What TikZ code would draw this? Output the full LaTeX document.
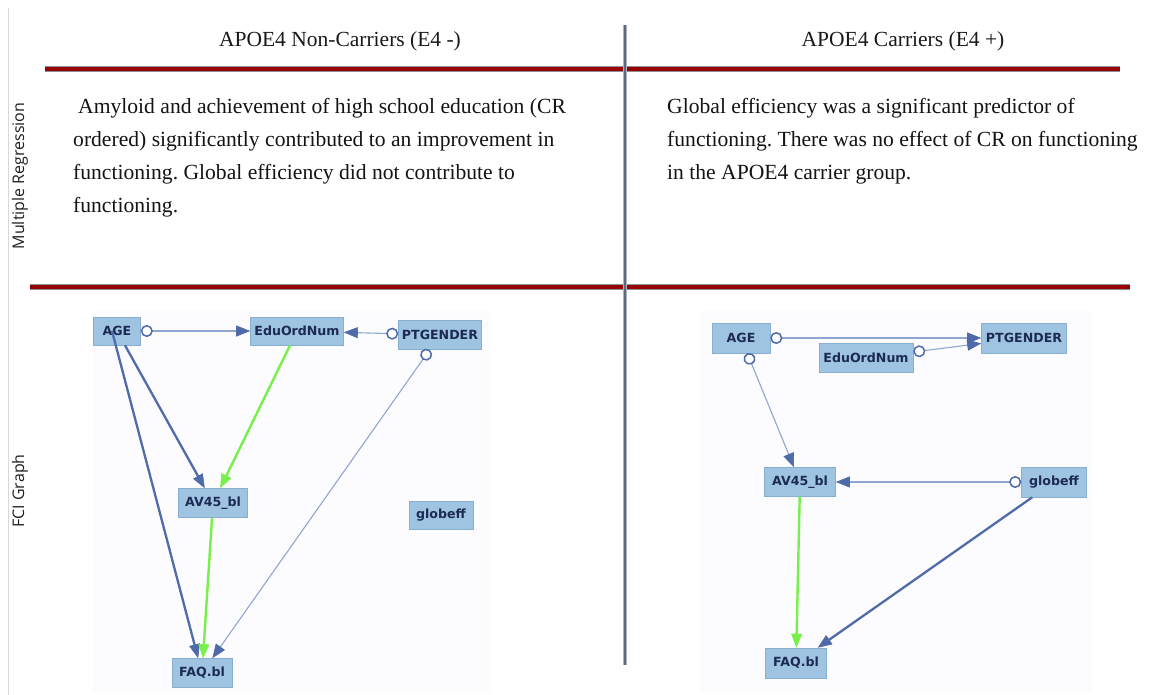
\documentclass[tikz,border=0pt]{standalone}
\usepackage{fontspec}
\setmainfont{Liberation Serif}
\newfontfamily\labelfont{Open Sans}
\newfontfamily\nodefont{DejaVu Sans}
\usetikzlibrary{arrows.meta}

\definecolor{rulered}{HTML}{990000}
\definecolor{ruleedge}{HTML}{8A909A}
\definecolor{dividercore}{HTML}{5E6A7C}
\definecolor{divideredge}{HTML}{A9B2BF}
\definecolor{frameline}{HTML}{D8D8D8}
\definecolor{panelbg}{HTML}{FCFCFE}
\definecolor{boxfill}{HTML}{9EC4E2}
\definecolor{boxline}{HTML}{88AED0}
\definecolor{boxtext}{HTML}{1D2A52}
\definecolor{thinblue}{HTML}{8FA5D2}
\definecolor{darkblue}{HTML}{4F6CA8}
\definecolor{tipblue}{HTML}{4E6AA8}
\definecolor{fcigreen}{HTML}{78F04A}

\tikzset{
  fcibox/.style={draw=boxline, fill=boxfill, line width=0.6pt, inner sep=0pt,
    text=boxtext, font=\nodefont\bfseries\fontsize{12.6}{14}\selectfont},
  thinedge/.style={draw=thinblue, line width=1.1pt},
  thickedge/.style={draw=darkblue, line width=2.3pt},
  greenedge/.style={draw=fcigreen, line width=2.4pt},
  fcihead/.tip={Triangle[length=14pt,width=11pt,color=tipblue,line width=0.6pt]},
  greenhead/.tip={Triangle[length=14pt,width=11pt,line width=0.6pt]},
  fcicirc/.tip={Circle[open,fill=white,length=12pt,line width=1.5pt,color=tipblue]},
  ohead/.style={arrows={fcicirc-fcihead}},
  fhead/.style={arrows={-fcihead}},
  ghead/.style={arrows={-greenhead}},
  heading/.style={font=\fontsize{21.5}{26}\selectfont, text=black!90},
  bodytext/.style={font=\fontsize{21.6}{33}\selectfont, align=left, inner sep=0pt,
    anchor=north west, text=black!92},
  rowlabel/.style={font=\labelfont\fontsize{16}{19}\selectfont, rotate=90, text=black!88},
}

\begin{document}
\frenchspacing
\begin{tikzpicture}[x=1pt,y=-1pt]
\useasboundingbox (0,0) rectangle (1155,695);
\fill[white] (0,0) rectangle (1155,695);

% table frame
\draw[frameline, line width=1pt] (8,8) -- (8,695);

% graph panels
\fill[panelbg] (93,310) rectangle (490,692);
\fill[panelbg] (700,310) rectangle (1092,692);

% column divider
\draw[divideredge, line width=4.5pt] (625,25) -- (625,665);
\draw[dividercore, line width=2pt] (625,25) -- (625,665);

% red header rules
\draw[ruleedge, line width=6.5pt] (45,69) -- (1120,69);
\draw[rulered, line width=4.5pt] (45,69) -- (1120,69);
\draw[ruleedge, line width=6.5pt] (30,287) -- (1130,287);
\draw[rulered, line width=4.5pt] (30,287) -- (1130,287);
% divider crossing
\draw[divideredge, line width=4.5pt] (625,62) -- (625,76);
\draw[dividercore, line width=2pt] (625,62) -- (625,76);
\draw[divideredge, line width=4.5pt] (625,280) -- (625,294);
\draw[dividercore, line width=2pt] (625,280) -- (625,294);

% column headings
\node[heading] (hleft) at (340,41) {APOE4 Non-Carriers (E4 -)};
\node[heading] (hright) at (903,41) {APOE4 Carriers (E4 +)};

% row labels
\node[rowlabel] (lmr) at (20,176) {Multiple Regression};
\node[rowlabel] (lfci) at (20,491) {FCI Graph};

% regression findings
\node[bodytext] (tleft) at (73,98) {\hspace*{5pt}Amyloid and achievement of high school education (CR\\
ordered) significantly contributed to an improvement in\\
functioning. Global efficiency did not contribute to\\
functioning.};
\node[bodytext] (tright) at (667,98) {Global efficiency was a significant predictor of\\
functioning. There was no effect of CR on functioning\\
in the APOE4 carrier group.};

% FCI graph, non-carriers
\node[fcibox, minimum width=47pt, minimum height=28pt] (aA) at (117,331) {AGE};
\node[fcibox, minimum width=93pt, minimum height=28pt] (aE) at (297,331) {EduOrdNum};
\node[fcibox, minimum width=83pt, minimum height=29pt] (aP) at (440,335) {PTGENDER};
\node[fcibox, minimum width=69pt, minimum height=29pt] (aV) at (213,503) {AV45\_bl};
\node[fcibox, minimum width=64pt, minimum height=28pt] (aG) at (441,515) {globeff};
\node[fcibox, minimum width=60pt, minimum height=29pt] (aF) at (202,673) {FAQ.bl};

\draw[thinedge, ohead] (aA) -- (aE);
\draw[thinedge, ohead] (aP) -- (aE);
\draw[thinedge, ohead] (aP) -- (aF);
\draw[thickedge, fhead] (aA) -- (aV);
\draw[thickedge, fhead] ([xshift=-5pt]aA.center) -- (aF);
\draw[greenedge, ghead] (aE) -- (aV);
\draw[greenedge, ghead] (aV) -- (aF);

% FCI graph, carriers
\node[fcibox, minimum width=58pt, minimum height=30pt] (bA) at (741,338) {AGE};
\node[fcibox, minimum width=85pt, minimum height=30pt] (bP) at (1024,338) {PTGENDER};
\node[fcibox, minimum width=94pt, minimum height=29pt] (bE) at (866,358) {EduOrdNum};
\node[fcibox, minimum width=71pt, minimum height=29pt] (bV) at (800,482) {AV45\_bl};
\node[fcibox, minimum width=65pt, minimum height=30pt] (bG) at (1054,482) {globeff};
\node[fcibox, minimum width=61pt, minimum height=30pt] (bF) at (796,663) {FAQ.bl};

\draw[thinedge, ohead] (bA) -- (bP);
\draw[thinedge, ohead] (bE) -- (bP);
\draw[thinedge, ohead] (bA) -- (bV);
\draw[thinedge, ohead] (bG) -- (bV);
\draw[greenedge, ghead] (bV) -- (bF);
\draw[thickedge, fhead] (bG) -- (bF);
\end{tikzpicture}
\end{document}
